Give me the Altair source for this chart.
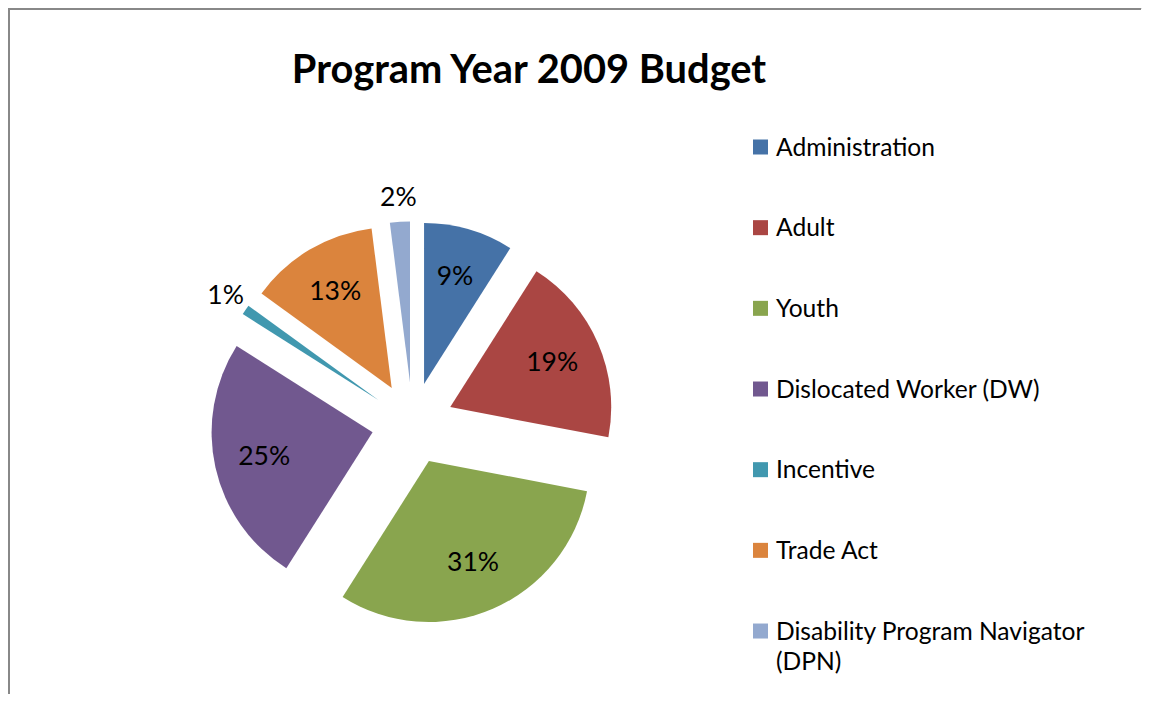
import altair as alt
import pandas as pd

# ---- data -------------------------------------------------------------
categories = [
    "Administration",
    "Adult",
    "Youth",
    "Dislocated Worker (DW)",
    "Incentive",
    "Trade Act",
    "Disability Program Navigator (DPN)",
]
legend_labels = [
    "Administration",
    "Adult",
    "Youth",
    "Dislocated Worker (DW)",
    "Incentive",
    "Trade Act",
    "Disability Program Navigator\n(DPN)",
]
percents = [9, 19, 31, 25, 1, 13, 2]
colors = ["#4572A7", "#AA4643", "#89A54E", "#71588F", "#4198AF", "#DB843D", "#93A9CF"]
title_text = "Program Year 2009 Budget"

df = pd.DataFrame({
    "category": categories,
    "legend": legend_labels,
    "pct": percents,
    "order": list(range(len(categories))),
})

# ---- layout constants -------------------------------------------------
W, H = 1134, 686
CX, CY = 404.6, 415.4      # pie centre
R = 161                    # pie radius
EXPLODE = 41               # slice explosion
FONT = "Lato"

color_scale = alt.Scale(domain=categories, range=colors)

base = (
    alt.Chart(df)
    .transform_window(cum="sum(pct)", sort=[alt.SortField("order")], frame=[None, 0])
    .transform_joinaggregate(total="sum(pct)")
    .transform_calculate(
        a0="2*PI*(datum.cum - datum.pct)/datum.total",
        a1="2*PI*datum.cum/datum.total",
        am="(datum.a0 + datum.a1)/2",
        cx=f"{CX} + {EXPLODE}*sin(datum.am)",
        cy=f"{CY} - {EXPLODE}*cos(datum.am)",
        lr=f"datum.pct < 3 ? {R + 24} : {R * 0.69}",
        lx="datum.cx + datum.lr*sin(datum.am)",
        ly="datum.cy - datum.lr*cos(datum.am)",
        lab="datum.pct + '%'",
        legy="139 + datum.order*80.67",
        legty="147.5 + datum.order*80.67",
    )
)

pie = base.mark_arc(radius=R).encode(
    theta=alt.Theta("a0:Q", scale=None, stack=None),
    theta2="a1:Q",
    x=alt.X("cx:Q", scale=None, axis=None),
    y=alt.Y("cy:Q", scale=None, axis=None),
    color=alt.Color("category:N", scale=color_scale, legend=None),
)

labels = base.mark_text(
    font=FONT, fontSize=26.5, color="#000000", align="center", baseline="middle"
).encode(
    x=alt.X("lx:Q", scale=None, axis=None),
    y=alt.Y("ly:Q", scale=None, axis=None),
    text="lab:N",
)

leg_sym = base.mark_square(size=225, opacity=1).encode(
    x=alt.value(752.5),
    y=alt.Y("legy:Q", scale=None, axis=None),
    color=alt.Color("category:N", scale=color_scale, legend=None),
)

leg_txt = base.mark_text(
    font=FONT, fontSize=24.6, color="#000000", align="left", baseline="alphabetic",
    lineBreak="\n", lineHeight=30,
).encode(
    x=alt.value(768),
    y=alt.Y("legty:Q", scale=None, axis=None),
    text="legend:N",
)

title = alt.Chart(pd.DataFrame({"t": [title_text]})).mark_text(
    font=FONT, fontSize=39.8, fontWeight="bold", color="#000000",
    align="center", baseline="alphabetic",
).encode(x=alt.value(521), y=alt.value(75), text="t:N")

frame_top = alt.Chart(pd.DataFrame({"k": [0]})).mark_rule(
    color="#888888", strokeWidth=2
).encode(x=alt.value(0), x2=alt.value(W - 1), y=alt.value(1))
frame_left = alt.Chart(pd.DataFrame({"k": [0]})).mark_rule(
    color="#888888", strokeWidth=2
).encode(x=alt.value(1), y=alt.value(0), y2=alt.value(H))

chart = (
    alt.layer(frame_top, frame_left, pie, labels, leg_sym, leg_txt, title)
    .properties(width=W, height=H, padding=0, autosize=alt.AutoSizeParams(type="none"))
    .configure_view(stroke=None)
    .configure(background="white")
)

chart.save("out.html", embed_options={"renderer": "svg", "actions": False})
